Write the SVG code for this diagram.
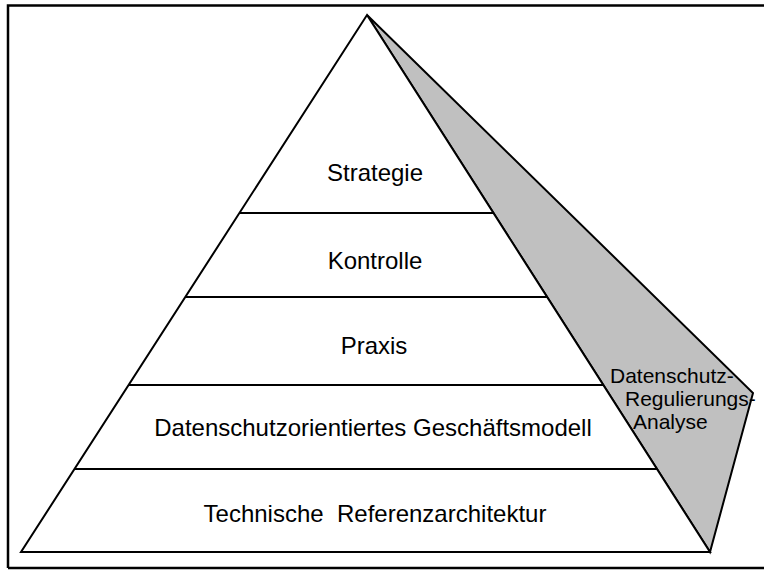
<svg xmlns="http://www.w3.org/2000/svg" width="764" height="570" viewBox="0 0 764 570">
<style>
.t{font-family:"Liberation Sans",Arial,sans-serif;font-size:24px;fill:#000;text-anchor:middle}
.s{font-family:"Liberation Sans",Arial,sans-serif;font-size:21px;fill:#000}
.ln{stroke:#000;stroke-width:2;fill:none}
</style>
<rect width="764" height="570" fill="#fff"/>
<path d="M8 568 V5.5 H780 M8 568 H780" fill="none" stroke="#000" stroke-width="2.5"/>
<g id="analysis">
<polygon points="367,15 753,393 710,552" fill="#c0c0c0" stroke="#000" stroke-width="2" stroke-linejoin="miter"/>
<text class="s" x="610" y="383">Datenschutz-</text>
<text class="s" x="625" y="406">Regulierungs-</text>
<text class="s" x="633" y="429">Analyse</text>
</g>
<g id="pyramid">
<polygon points="367,15 710,552 21,552" fill="#fff" stroke="#000" stroke-width="2"/>
</g>
<g id="connectors">
<line class="ln" x1="239.4" y1="213" x2="493.5" y2="213"/>
<line class="ln" x1="185.3" y1="297" x2="547.1" y2="297"/>
<line class="ln" x1="128.6" y1="385" x2="603.3" y2="385"/>
<line class="ln" x1="74.5" y1="469" x2="657" y2="469"/>
</g>
<g id="strategie"><text class="t" x="375" y="181">Strategie</text></g>
<g id="kontrolle"><text class="t" x="375" y="269">Kontrolle</text></g>
<g id="praxis"><text class="t" x="374" y="354">Praxis</text></g>
<g id="geschaeftsmodell"><text class="t" x="373" y="436">Datenschutzorientiertes Geschäftsmodell</text></g>
<g id="referenzarchitektur"><text class="t" x="375" y="522" xml:space="preserve">Technische  Referenzarchitektur</text></g>
</svg>
